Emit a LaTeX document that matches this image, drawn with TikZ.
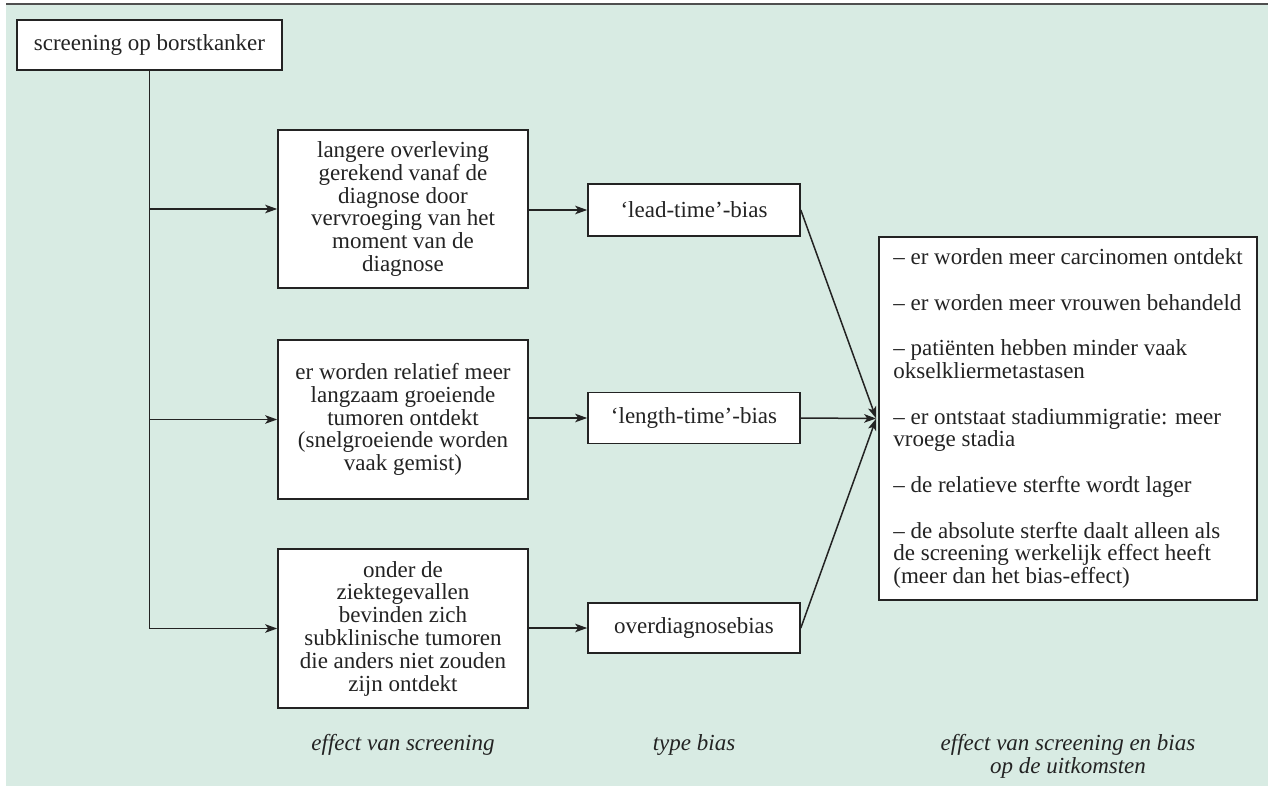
\documentclass[tikz,border=0pt]{standalone}
\usepackage{fontspec}
\setmainfont{Liberation Serif}
\usetikzlibrary{arrows.meta}
\definecolor{bg}{RGB}{216,235,227}
\definecolor{ink}{RGB}{35,35,35}
\begin{document}
\begin{tikzpicture}[x=1pt,y=-1pt,
  box/.style={draw=ink, line width=1.6pt, fill=white, align=center, inner sep=0pt,
    font=\fontsize{23}{22.8}\selectfont, text=ink},
  conn/.style={draw=ink, line width=1.5pt},
  arr/.style={conn, -{Stealth[length=12pt,width=8.5pt,inset=3pt]}},
  lbl/.style={font=\fontsize{23}{23}\selectfont\itshape, align=center, text=ink}]
\useasboundingbox (0,0) rectangle (1268,786);
\fill[bg] (6,5) rectangle (1268,786);
\draw[line width=2pt, draw=ink!80] (6,4) -- (1268,4);

\node[box, minimum width=265pt, minimum height=50pt] (top) at (149.5,45) {screening op borstkanker};

\node[box, minimum width=250pt, minimum height=158pt] (b1) at (403,209)
  {langere overleving\\gerekend vanaf de\\diagnose door\\vervroeging van het\\moment van de\\diagnose};
\node[box, minimum width=250pt, minimum height=159pt] (b2) at (403,419.5)
  {er worden relatief meer\\langzaam groeiende\\tumoren ontdekt\\(snelgroeiende worden\\vaak gemist)};
\node[box, minimum width=250pt, minimum height=159pt] (b3) at (403,628.5)
  {onder de\\ziektegevallen\\bevinden zich\\subklinische tumoren\\die anders niet zouden\\zijn ontdekt};

\node[box, minimum width=212pt, minimum height=52pt] (lead) at (694,210) {‘lead-time’-bias};
\node[box, minimum width=212pt, minimum height=51pt] (length) at (694,418) {‘length-time’-bias};
\node[box, minimum width=212pt, minimum height=50pt] (over) at (694,628) {overdiagnosebias};

\node[box, minimum width=378pt, minimum height=363pt, align=left] (res) at (1068,418.5)
  {– er worden meer carcinomen ontdekt\\[22.8pt]
   – er worden meer vrouwen behandeld\\[22.8pt]
   – patiënten hebben minder vaak\\okselkliermetastasen\\[22.8pt]
   – er ontstaat stadiummigratie: meer\\vroege stadia\\[22.8pt]
   – de relatieve sterfte wordt lager\\[22.8pt]
   – de absolute sterfte daalt alleen als\\de screening werkelijk effect heeft\\(meer dan het bias-effect)};

\coordinate (conv) at ([xshift=-2pt]res.west);
\coordinate (j1) at (top.south |- b1.west);
\coordinate (j2) at (top.south |- b2.west);
\coordinate (j3) at (top.south |- b3.west);

\draw[conn] (top.south) -- (j3);
\draw[arr] (j1) -- (b1.west);
\draw[arr] (j2) -- (b2.west);
\draw[arr] (j3) -- (b3.west);

\draw[arr] (b1.east |- lead.west) -- (lead.west);
\draw[arr] (b2.east |- length.west) -- (length.west);
\draw[arr] (b3.east |- over.west) -- (over.west);

\draw[arr] (lead.east) -- (conv);
\draw[arr] (length.east) -- (conv);
\draw[arr] (over.east) -- (conv);

\node[lbl] (l1) at (403,745) {effect van screening};
\node[lbl] (l2) at (694,745) {type bias};
\node[lbl] (l3) at (1068,756) {effect van screening en bias\\op de uitkomsten};
\end{tikzpicture}
\end{document}
